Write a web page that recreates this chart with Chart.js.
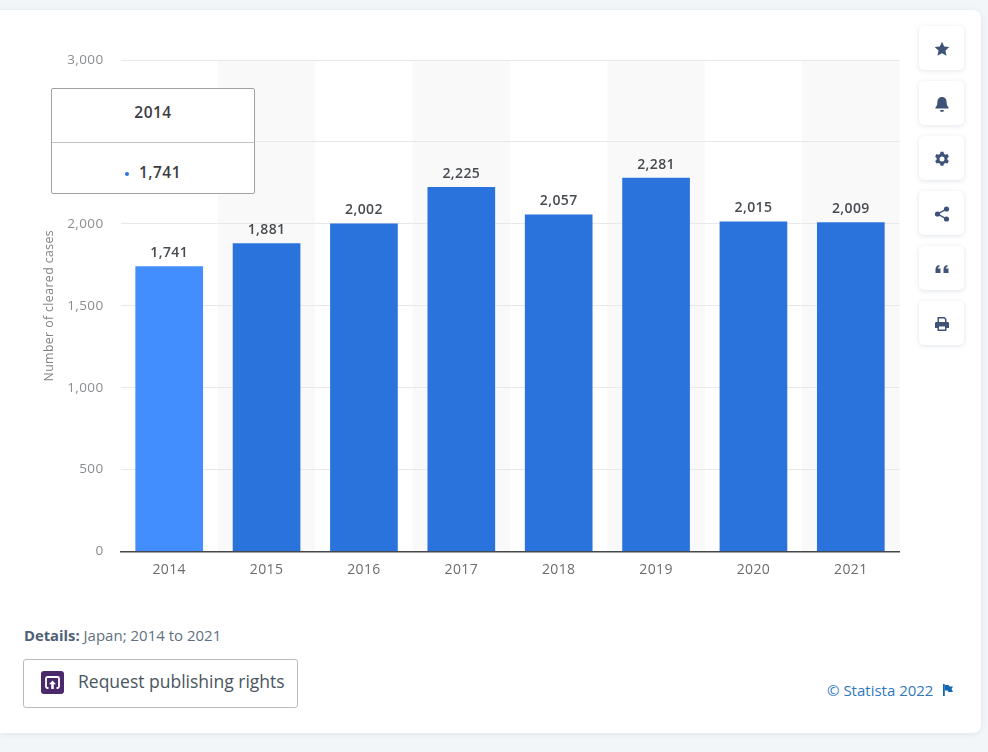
<!DOCTYPE html>
<html>
<head>
<meta charset="utf-8">
<title>Number of cleared cases in Japan</title>
<script src="https://cdn.jsdelivr.net/npm/chart.js@4"></script>
<style>
html, body { margin: 0; padding: 0; width: 988px; height: 752px; overflow: hidden; background: #f3f6f9; font-family: "Open Sans", sans-serif; }
.card { position: absolute; left: 0; top: 10px; width: 981px; height: 723px; background: #fff; border-radius: 0 8px 8px 0; box-shadow: 0 1px 6px rgba(40,60,90,.1); }
#chart { position: absolute; left: 0; top: 0; }
.tip { position: absolute; left: 51px; top: 88px; width: 202px; height: 104px; background: #fff; border: 1px solid #a0a2a5; border-radius: 2px; color: #3a3d42; font-weight: 600; font-size: 15.5px; text-align: center; letter-spacing: .5px; }
.tip__head { height: 53px; line-height: 46px; border-bottom: 1px solid #c0c1c3; }
.tip__body { line-height: 58px; }
.tip__dot { display: inline-block; width: 4px; height: 4px; border-radius: 50%; background: #2a73dd; margin-right: 10px; vertical-align: 2px; }
.tools { position: absolute; left: 919px; top: 26px; }
.tools__btn { width: 45px; height: 44px; margin-bottom: 11px; background: #fff; border-radius: 5px; box-shadow: 0 1px 5px rgba(40,60,90,.14); display: flex; align-items: center; justify-content: center; }
.tools__btn svg { width: 16px; height: 16px; margin-top: 2px; fill: #3f5378; }
.details { position: absolute; left: 24px; top: 625px; font-size: 15px; color: #617080; }
.details b { color: #4e6075; font-weight: 700; font-size: 14.800px; }
.rights { position: absolute; left: 23px; top: 659px; width: 273px; height: 47px; background: #fff; border: 1px solid #b9bcc0; border-radius: 3px; font-size: 17.5px; line-height: 43px; color: #4a5560; }
.rights span { position: absolute; left: 54px; white-space: nowrap; }
.rights svg { position: absolute; left: 17px; top: 11px; width: 23px; height: 23px; }
.copy { position: absolute; left: 827px; top: 680px; font-size: 15px; color: #2f78c0; white-space: nowrap; }
.flag { position: absolute; left: 942px; top: 684px; width: 11px; height: 12px; fill: #0f67b5; }
</style>
</head>
<body>
<div class="card"></div>
<canvas id="chart" width="988" height="620"></canvas>

<div class="tip">
    <div class="tip__head" id="tipHead"></div>
    <div class="tip__body"><i class="tip__dot"></i><span id="tipValue"></span></div>
</div>

<div class="tools">
    <div class="tools__btn"><svg viewBox="0 0 16 16"><path d="M8 .8l2.200 4.700 5.100.6-3.800 3.500 1 5.100L8 12.200l-4.500 2.500 1-5.100L.7 6.100l5.100-.6z"/></svg></div>
    <div class="tools__btn"><svg viewBox="0 0 16 16"><path d="M8 1c-3 0-4.600 2.300-4.600 5 0 3-.9 4.300-2 5.600v1h13.200v-1c-1.100-1.300-2-2.600-2-5.600C12.600 3.300 11 1 8 1zM6 14h4a2 2 0 0 1-4 0z"/></svg></div>
    <div class="tools__btn"><svg viewBox="0 0 16 16"><path fill-rule="evenodd" d="M6.500.8h3l.4 2 1.600.9 1.900-.7 1.500 2.600-1.500 1.300v1.800l1.500 1.300-1.500 2.600-1.900-.7-1.600.9-.4 2h-3l-.4-2-1.600-.9-1.900.7L1.100 10l1.500-1.300V6.900L1.100 5.600l1.500-2.600 1.900.7 1.600-.9zM8 5.500a2.500 2.500 0 1 0 0 5 2.500 2.500 0 0 0 0-5z"/></svg></div>
    <div class="tools__btn"><svg viewBox="0 0 16 16"><circle cx="12.500" cy="3" r="2.600"/><circle cx="12.500" cy="13" r="2.600"/><circle cx="3.500" cy="8" r="2.600"/><path d="M3.500 7.300l9-5 .6 1.200-9 5zM3.500 8.700l9 5 .6-1.200-9-5z"/></svg></div>
    <div class="tools__btn"><svg viewBox="0 0 16 16"><path d="M1.500 8.500C1.500 6 2.800 4.500 5.500 4v1.700C4.400 6 3.900 6.600 3.800 7.500h2.700v4.500h-5zM9.500 8.500C9.500 6 10.800 4.500 13.500 4v1.700c-1.100.3-1.600.9-1.700 1.800h2.700v4.500h-5z"/></svg></div>
    <div class="tools__btn"><svg viewBox="0 0 16 16"><path fill-rule="evenodd" d="M3.500 1h7l2 2v3h1.200c.7 0 1.300.6 1.300 1.300V12h-2.500v3h-9v-3H1V7.300C1 6.600 1.600 6 2.300 6h1.200zM5 2.500V6h6V3.500L10 2.500zM5 10.500v3h6v-3z"/></svg></div>
</div>

<div class="details"><b>Details:</b> Japan; 2014 to 2021</div>

<div class="rights">
    <svg viewBox="0 0 23 23"><rect width="23" height="23" rx="3" fill="#4b2a6b"/><path d="M7.500 17H6.500a1.500 1.500 0 0 1-1.500-1.500V7.500A1.500 1.500 0 0 1 6.500 6h10A1.500 1.500 0 0 1 18 7.500v8a1.500 1.500 0 0 1-1.500 1.500h-1" fill="none" stroke="#fff" stroke-width="1.800"/><path d="M11.500 9.500l3.500 3.800h-2.200V18h-2.600v-4.700H8z" fill="#fff"/></svg>
    <span>Request publishing rights</span>
</div>

<div class="copy">© Statista 2022</div>
<svg class="flag" viewBox="0 0 11 12"><path d="M1 0h1.800v12H1zM3 1h3.500l1 1.500H11L9.500 5 11 8H6.500l-1-1.500H3z"/></svg>

<script>
var years = ["2014", "2015", "2016", "2017", "2018", "2019", "2020", "2021"];
var clearedCases = [1741, 1881, 2002, 2225, 2057, 2281, 2015, 2009];
var yTicks = [0, 500, 1000, 1500, 2000, 2500, 3000];
var axisTitle = "Number of cleared cases";
var highlightedIndex = 0;

var barColor = '#2a73dd';
var barColorActive = '#428eff';

function format_number(value) {
    return value.toLocaleString('en-US');
}

// every second column gets a pale band, under the grid lines
// the library has no option for letter spacing, set it on the context here too
var bandsPlugin = {
    id: 'bands',
    beforeDraw: function(chart) {
        var area = chart.chartArea;
        var step = area.width / years.length;
        var ctx = chart.ctx;
        ctx.letterSpacing = '0.4px';
        ctx.save();
        ctx.fillStyle = '#f9f9fa';
        for (var i = 1; i < years.length; i += 2) {
            ctx.fillRect(area.left + step * i, area.top, step, area.height);
        }
        ctx.restore();
    }
};

// value over each bar
var barLabelsPlugin = {
    id: 'barLabels',
    afterDatasetsDraw: function(chart) {
        var ctx = chart.ctx;
        var bars = chart.getDatasetMeta(0).data;
        ctx.save();
        ctx.font = '600 14px "Open Sans"';
        ctx.fillStyle = '#474b50';
        ctx.textAlign = 'center';
        ctx.textBaseline = 'bottom';
        bars.forEach(function(bar, i) {
            ctx.fillText(format_number(clearedCases[i]), bar.x, bar.y - 6);
        });
        ctx.restore();
    }
};

new Chart(document.getElementById('chart'), {
    type: 'bar',
    data: {
        labels: years,
        datasets: [{
            data: clearedCases,
            backgroundColor: years.map(function(y, i) {
                return i === highlightedIndex ? barColorActive : barColor;
            }),
            barPercentage: 0.695,
            categoryPercentage: 1
        }]
    },
    options: {
        responsive: false,
        animation: false,
        devicePixelRatio: 1,
        events: [],
        layout: { padding: { top: 60, right: 88.5, left: 0, bottom: 0 } },
        plugins: {
            legend: { display: false },
            tooltip: { enabled: false }
        },
        scales: {
            x: {
                grid: { display: false, drawTicks: false },
                border: { color: '#44474b', width: 1.5, z: 1 },
                ticks: {
                    color: '#6a6c70',
                    padding: 10,
                    maxRotation: 0,
                    font: { family: 'Open Sans', size: 14 }
                },
                afterFit: function(scale) { scale.height = 68.5; }
            },
            y: {
                min: 0,
                max: 3000,
                afterBuildTicks: function(scale) {
                    scale.ticks = yTicks.map(function(v) { return { value: v }; });
                },
                grid: { color: '#e7e8ea', drawTicks: false, lineWidth: 1 },
                border: { display: false },
                ticks: {
                    color: '#8a8d90',
                    padding: 17,
                    font: { family: 'Open Sans', size: 13.5 },
                    callback: function(v) { return format_number(v); }
                },
                title: {
                    display: true,
                    text: axisTitle,
                    color: '#808387',
                    padding: { top: 42, bottom: 0 },
                    font: { family: 'Open Sans', size: 12.3 }
                },
                afterFit: function(scale) { scale.width = 120.5; }
            }
        }
    },
    plugins: [bandsPlugin, barLabelsPlugin]
});

document.getElementById('tipHead').textContent = years[highlightedIndex];
document.getElementById('tipValue').textContent = format_number(clearedCases[highlightedIndex]);
</script>
</body>
</html>
